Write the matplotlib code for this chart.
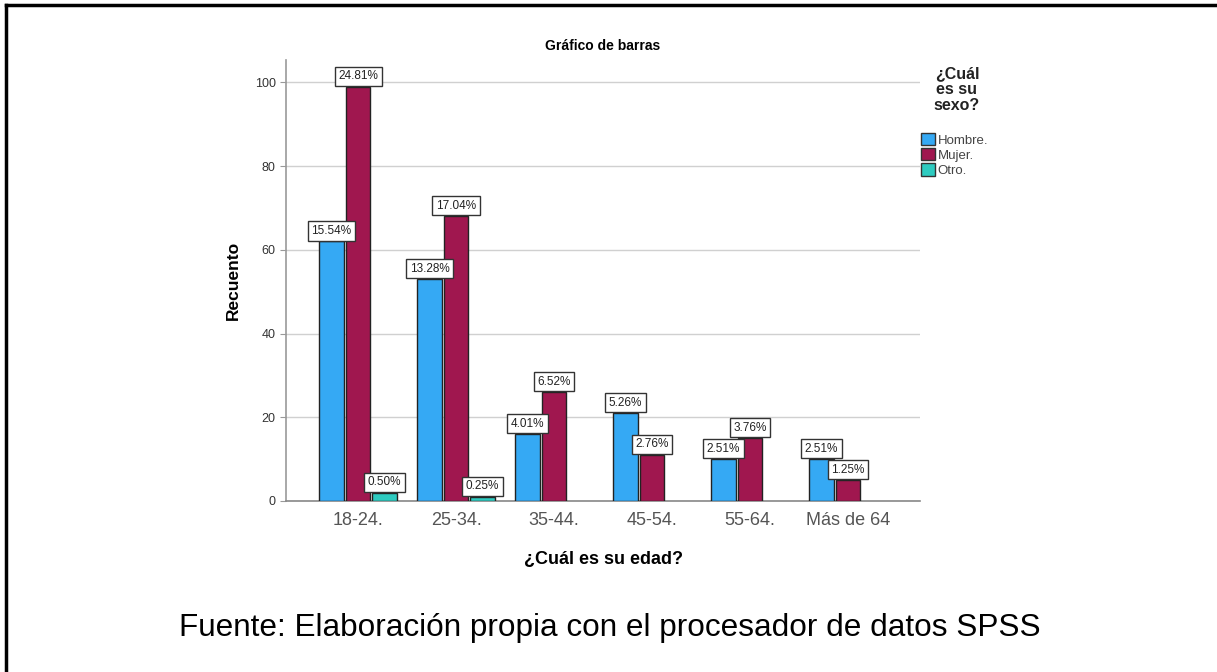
import matplotlib.pyplot as plt
import numpy as np
from matplotlib.patches import Patch
from matplotlib.lines import Line2D

# datos (recuentos)
edades = ['18-24.', '25-34.', '35-44.', '45-54.', '55-64.', 'Más de 64']
sexos = ['Hombre.', 'Mujer.', 'Otro.']
hombre = [62, 53, 16, 21, 10, 10]
mujer = [99, 68, 26, 11, 15, 5]
otro = [2, 1, 0, 0, 0, 0]

colores = ['#35A9F4', '#A0174F', '#2ECBC0']
total = sum(hombre) + sum(mujer) + sum(otro)

plt.rcParams['font.family'] = ['Liberation Sans', 'DejaVu Sans']

fig = plt.figure(figsize=(12.17, 6.72), dpi=100)
ax = fig.add_axes([0.235, 0.2545, 0.521, 0.656])

x = np.arange(len(edades))
ancho = 0.25
paso = 0.27
series = [hombre, mujer, otro]
for i, (vals, col) in enumerate(zip(series, colores)):
    vals = np.array(vals)
    pos = x + (i - 1) * paso
    hay = vals > 0  # sin barra para recuento 0
    ax.bar(pos[hay], vals[hay], width=ancho, color=col, edgecolor='#222222',
           linewidth=1.0, zorder=3)
    for xp, v in zip(pos[hay], vals[hay]):
        ax.annotate('%.2f%%' % (v / total * 100), (xp, v),
                    xytext=(0, 3.2), textcoords='offset points',
                    ha='center', va='bottom', fontsize=8.5, color='#222222',
                    bbox=dict(boxstyle='square,pad=0.3', fc='white',
                              ec='#333333', lw=1.0), zorder=5)

ax.set_xlim(-0.735, len(edades) - 1 + 0.735)
ax.set_ylim(0, 105.3)
ax.set_yticks([0, 20, 40, 60, 80, 100])
ax.yaxis.grid(True, color='#d0d0d0', linewidth=1.0, zorder=0)
ax.set_axisbelow(True)
ax.set_xticks(x)
ax.set_xticklabels(edades, fontsize=13, color='#555555')
ax.tick_params(axis='y', labelsize=9, labelcolor='#333333', length=4,
               color='#999999')
ax.tick_params(axis='x', length=0, pad=8)
for s in ['top', 'right']:
    ax.spines[s].set_visible(False)
ax.spines['left'].set_color('#999999')
ax.spines['bottom'].set_color('#888888')
ax.spines['left'].set_linewidth(1.2)
ax.spines['bottom'].set_linewidth(1.2)

ax.set_title('Gráfico de barras', fontsize=10, fontweight='bold', pad=7)
ax.set_ylabel('Recuento', fontsize=12.5, fontweight='bold', labelpad=10)
ax.set_xlabel('¿Cuál es su edad?', fontsize=13, fontweight='bold', labelpad=16)

# leyenda
fig.text(957 / 1217, 1 - 90 / 672, '¿Cuál\nes su\nsexo?', ha='center',
         va='center', multialignment='center', fontsize=11.5,
         fontweight='bold', linespacing=1.08, color='#222222')
handles = [Patch(facecolor=c, edgecolor='#333333', linewidth=1.0) for c in colores]
leg = fig.legend(handles, sexos, loc='upper left',
                 bbox_to_anchor=(921 / 1217, 1 - 133 / 672),
                 frameon=False, fontsize=9.5, handlelength=1.05,
                 handleheight=1.05, handletextpad=0.2, labelspacing=0.12,
                 borderaxespad=0, borderpad=0)
for t in leg.get_texts():
    t.set_color('#444444')

# marco y fuente
fig.add_artist(Line2D([6 / 1217, 6 / 1217], [0, 1 - 5 / 672], color='black', lw=2.5))
fig.add_artist(Line2D([6 / 1217, 1], [1 - 5 / 672, 1 - 5 / 672], color='black', lw=2.5))
fig.text(610 / 1217, 1 - 628 / 672,
         'Fuente: Elaboración propia con el procesador de datos SPSS',
         ha='center', va='center', fontsize=22.7, color='black')

fig.savefig('out.png', dpi=100)
